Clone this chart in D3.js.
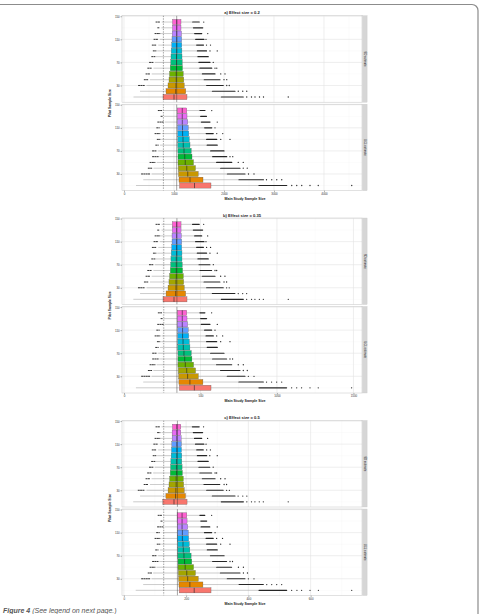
<!DOCTYPE html>
<html><head><meta charset="utf-8">
<script src="https://cdn.jsdelivr.net/npm/d3@7"></script>
<style>html,body{margin:0;padding:0;background:#fff;} svg{display:block;font-family:"Liberation Sans",Arial,sans-serif;}</style>
</head><body><svg id="chart" width="481" height="614"></svg>
<script>
// ---------- DATA ----------
const pilotSizes = [10,20,30,40,50,60,70,80,90,100,110,120,130,140];
const yTickValues = [150,110,70,30];
const facetLabels = ["SD estimate","UCL estimate"];
const panelTitles = ["a) Effect size = 0.2","b) Effect size = 0.35","c) Effect size = 0.5"];
const xTitle = "Main Study Sample Size";
const yTitle = "Pilot Sample Size";
const caption = ["Figure 4", " (See legend on next page.)"];

const xTicksA = [0,1000,2000,3000,4000];
const xTicksB = [0,500,1000,1500];
const xTicksC = [0,200,400,600];
const xDomainA = [-40,4760];
const xDomainB = [-13,1556];
const xDomainC = [-6,765];
const powerLinesA = [788,1054];   // dashed, solid
const powerLinesB = [260,346];
const powerLinesC = [128,172];

// panel a – SD estimate
const aSdLoMin = [null,null,290,405,440,475,510,555,585,565,600,620,675,640];
const aSdLoMax = [null,null,420,485,520,555,590,620,640,655,685,720,720,720];
const aSdWl  = [190,320,450,520,555,590,620,640,665,685,720,740,750,755];
const aSdQ1  = [780,840,880,900,910,925,935,940,945,955,960,965,970,970];
const aSdMed = [1000,1035,1040,1045,1045,1050,1050,1050,1055,1055,1055,1055,1055,1055];
const aSdQ3  = [1260,1235,1205,1195,1185,1170,1165,1160,1158,1155,1153,1150,1140,1140];
const aSdWh  = [1935,1755,1640,1590,1555,1505,1485,1465,1455,1440,1420,1400,1375,1360];
const aSdOutEnd = [2385,2220,1985,1920,1820,1755,1720,1685,1650,1590,1600,1555,1575,1505];
const aSdSparse = [[2455,2550,2620,2710,2790,3285],[2285,2375,2455],[2055,2105],[2000,2055],[1935,2020],[1820,1855],[1785],[],[1720,1865],[1650,1730],[1640],[1675],[],[1595]];
// panel a – UCL estimate
const aUclLoMin = [null,null,350,485,520,570,570,635,665,620,655,675,740,685];
const aUclLoMax = [null,null,520,555,620,685,655,685,720,720,705,785,775,755];
const aUclWl  = [240,385,555,590,655,705,685,720,745,755,785,815,800,785];
const aUclQ1  = [1110,1100,1090,1085,1080,1080,1078,1075,1075,1073,1072,1068,1068,1066];
const aUclMed = [1410,1320,1275,1255,1225,1215,1200,1185,1180,1172,1170,1166,1165,1165];
const aUclQ3  = [1740,1580,1485,1430,1390,1360,1345,1320,1305,1295,1285,1275,1260,1255];
const aUclWh  = [2685,2285,2055,1920,1840,1760,1720,1650,1640,1630,1600,1535,1520,1505];
const aUclOutEnd = [3255,2790,2420,2320,2155,2055,2000,1865,1855,1785,1755,1720,1650,1620];
const aUclSparse = [[3355,3455,3555,3720,3885,4555],[2850,2955,3055,3155],[2490,2600],[2385,2465],[2285,2385],[2120,2175],[],[],[1935,2120],[1855,1975],[1820],[1865],[],[1755]];

// panel b – SD estimate
const bSdLoMin = [null,null,94,133,144,155,166,181,192,185,196,203,220,209];
const bSdLoMax = [null,null,137,159,170,181,192,203,209,214,224,235,235,235];
const bSdWl  = [61,105,148,170,181,192,203,209,218,224,235,242,246,246];
const bSdQ1  = [255,275,288,294,298,303,305,307,309,312,314,314,316,316];
const bSdMed = [327,338,340,340,342,342,342,342,344,344,344,344,344,344];
const bSdQ3  = [412,403,394,390,388,383,381,379,379,377,377,375,373,373];
const bSdWh  = [632,573,536,519,508,492,486,479,475,471,464,458,449,444];
const bSdOutEnd = [780,725,649,627,595,573,562,551,540,519,523,508,514,492];
const bSdSparse = [[802,834,856,885,911,1074],[747,776,802],[671,688],[654,671],[632,660],[595,606],[584],[],[562,610],[540,566],[536],[547],[],[521]];
// panel b – UCL estimate
const bUclLoMin = [null,null,115,159,170,187,187,207,218,203,214,220,242,224];
const bUclLoMax = [null,null,170,181,203,224,214,224,235,235,231,257,253,246];
const bUclWl  = [78,126,181,192,214,231,224,235,244,246,257,266,261,257];
const bUclQ1  = [362,359,357,355,353,353,353,351,351,351,351,349,349,349];
const bUclMed = [460,431,416,410,401,397,392,388,386,383,383,381,381,381];
const bUclQ3  = [569,516,486,468,455,444,440,431,427,423,420,416,412,410];
const bUclWh  = [878,747,671,627,601,575,562,540,536,532,523,501,497,492];
const bUclOutEnd = [1063,911,791,758,704,671,654,610,606,584,573,562,540,529];
const bUclSparse = [[1096,1129,1161,1216,1270,1488],[932,965,998,1031],[813,850],[780,806],[747,780],[693,710],[],[],[632,693],[606,645],[595],[610],[],[573]];

// panel c – SD estimate
const cSdLoMin = [null,null,46,65,71,76,82,89,94,91,96,100,108,103];
const cSdLoMax = [null,null,67,78,84,89,94,100,103,105,110,116,116,116];
const cSdWl  = [30,52,73,84,89,94,100,103,107,110,116,119,121,121];
const cSdQ1  = [125,135,142,145,147,149,150,151,152,153,154,155,155,156];
const cSdMed = [161,166,167,168,168,169,169,169,170,170,170,170,170,170];
const cSdQ3  = [203,198,194,192,191,188,187,186,186,185,185,184,183,183];
const cSdWh  = [311,282,264,255,250,242,239,236,234,232,228,225,221,218];
const cSdOutEnd = [384,357,319,308,293,282,276,271,266,255,257,250,253,242];
const cSdSparse = [[395,410,421,435,448,528],[367,382,395],[330,339],[322,330],[311,325],[293,298],[287],[],[276,300],[266,278],[264],[269],[],[256]];
// panel c – UCL estimate
const cUclLoMin = [null,null,57,78,84,92,92,102,107,100,105,108,119,110];
const cUclLoMax = [null,null,84,89,100,110,105,110,116,116,114,126,124,121];
const cUclWl  = [38,62,89,94,105,114,110,116,120,121,126,131,128,126];
const cUclQ1  = [178,177,176,175,174,174,173,173,173,172,172,172,171,171];
const cUclMed = [226,212,205,202,197,195,193,191,190,188,188,187,187,187];
const cUclQ3  = [280,254,239,230,224,218,216,212,210,208,207,205,203,202];
const cUclWh  = [432,368,330,308,296,283,276,266,264,262,257,246,245,242];
const cUclOutEnd = [523,448,389,373,346,330,322,300,298,287,282,276,266,260];
const cUclSparse = [[539,556,571,598,625,732],[459,475,491,507],[400,418],[384,397],[368,384],[341,349],[],[],[311,341],[298,317],[293],[300],[],[282]];

// ---------- BUILD ----------
function facet(loMin, loMax, wl, q1, med, q3, wh, outEnd, sparse){
  return pilotSizes.map((n,i)=>({n, loMin:loMin[i], loMax:loMax[i], wl:wl[i], q1:q1[i], med:med[i], q3:q3[i], wh:wh[i], outEnd:outEnd[i], sparse:sparse[i]}));
}
const panels = [
  {title:panelTitles[0], domain:xDomainA, ticks:xTicksA, lines:powerLinesA, facets:[
    facet(aSdLoMin,aSdLoMax,aSdWl,aSdQ1,aSdMed,aSdQ3,aSdWh,aSdOutEnd,aSdSparse),
    facet(aUclLoMin,aUclLoMax,aUclWl,aUclQ1,aUclMed,aUclQ3,aUclWh,aUclOutEnd,aUclSparse)]},
  {title:panelTitles[1], domain:xDomainB, ticks:xTicksB, lines:powerLinesB, facets:[
    facet(bSdLoMin,bSdLoMax,bSdWl,bSdQ1,bSdMed,bSdQ3,bSdWh,bSdOutEnd,bSdSparse),
    facet(bUclLoMin,bUclLoMax,bUclWl,bUclQ1,bUclMed,bUclQ3,bUclWh,bUclOutEnd,bUclSparse)]},
  {title:panelTitles[2], domain:xDomainC, ticks:xTicksC, lines:powerLinesC, facets:[
    facet(cSdLoMin,cSdLoMax,cSdWl,cSdQ1,cSdMed,cSdQ3,cSdWh,cSdOutEnd,cSdSparse),
    facet(cUclLoMin,cUclLoMax,cUclWl,cUclQ1,cUclMed,cUclQ3,cUclWh,cUclOutEnd,cUclSparse)]}
];

const palette = ["#F8766D","#E58700","#C99800","#A3A500","#6BB100","#00BA38","#00BF7D","#00C0AF","#00BCD8","#00B0F6","#619CFF","#B983FF","#E76BF3","#FD61D1"];
const color = d3.scaleOrdinal().domain(pilotSizes).range(palette);

const svg = d3.select("#chart");
const plotLeft = 122, plotRight = 362, stripW = 4.6;
const panelTops = [15.7, 218, 420.5];
const facetH = 86.5, facetGap = 2;
const yDomain = [1,151];
const boxUnits = 9;

// frame
svg.append("path").attr("d","M0,4.5 H472 A6,6 0 0 1 478,10.5 V616")
  .attr("fill","none").attr("stroke","#8c8c8c").attr("stroke-width",1.2);

panels.forEach((p,pi)=>{
  const top0 = panelTops[pi];
  const g = svg.append("g");
  const x = d3.scaleLinear().domain(p.domain).range([plotLeft, plotRight]);
  const step = p.ticks[1]-p.ticks[0];
  const minorX = d3.range(p.ticks[0]+step/2, p.domain[1], step);
  const yMinor = yTickValues.map(v=>v-20);

  p.facets.forEach((rows,fi)=>{
    const top = top0 + fi*(facetH+facetGap);
    const y = d3.scaleLinear().domain(yDomain).range([top+facetH, top]);
    const bh = Math.abs(y(0)-y(boxUnits));
    const fg = g.append("g");
    fg.append("rect").attr("x",plotLeft).attr("y",top).attr("width",plotRight-plotLeft).attr("height",facetH).attr("fill","#fff");
    // grid
    fg.selectAll(".gxm").data(minorX).join("line").attr("x1",d=>x(d)).attr("x2",d=>x(d)).attr("y1",top).attr("y2",top+facetH).attr("stroke","#f2f2f2").attr("stroke-width",0.35);
    fg.selectAll(".gym").data(yMinor).join("line").attr("y1",d=>y(d)).attr("y2",d=>y(d)).attr("x1",plotLeft).attr("x2",plotRight).attr("stroke","#f2f2f2").attr("stroke-width",0.35);
    fg.selectAll(".gx").data(p.ticks).join("line").attr("x1",d=>x(d)).attr("x2",d=>x(d)).attr("y1",top).attr("y2",top+facetH).attr("stroke","#e3e3e3").attr("stroke-width",0.6);
    fg.selectAll(".gy").data(yTickValues.filter(v=>v<yDomain[1])).join("line").attr("y1",d=>y(d)).attr("y2",d=>y(d)).attr("x1",plotLeft).attr("x2",plotRight).attr("stroke","#e3e3e3").attr("stroke-width",0.6);

    // boxplots
    const rg = fg.selectAll(".row").data(rows).join("g");
    rg.append("line").attr("x1",d=>x(d.wl)).attr("x2",d=>x(d.q1)).attr("y1",d=>y(d.n)).attr("y2",d=>y(d.n)).attr("stroke","#9a9a9a").attr("stroke-width",0.5);
    rg.append("line").attr("x1",d=>x(d.q3)).attr("x2",d=>x(d.wh)).attr("y1",d=>y(d.n)).attr("y2",d=>y(d.n)).attr("stroke","#9a9a9a").attr("stroke-width",0.5);
    rg.filter(d=>d.loMin!=null).append("line").attr("x1",d=>x(d.loMin)).attr("x2",d=>x(d.loMax)).attr("y1",d=>y(d.n)).attr("y2",d=>y(d.n)).attr("stroke","#333").attr("stroke-width",1.0).attr("stroke-linecap","round").attr("stroke-dasharray","1.2,1.1");
    rg.append("line").attr("x1",d=>x(d.wh)+0.6).attr("x2",d=>x(d.outEnd)).attr("y1",d=>y(d.n)).attr("y2",d=>y(d.n)).attr("stroke","#262626").attr("stroke-width",1.15).attr("stroke-linecap","round");
    rg.selectAll("circle").data(d=>d.sparse.map(v=>({n:d.n,v}))).join("circle").attr("cx",d=>x(d.v)).attr("cy",d=>y(d.n)).attr("r",0.65).attr("fill","#262626");
    rg.append("rect").attr("x",d=>x(d.q1)).attr("y",d=>y(d.n)-bh/2).attr("width",d=>x(d.q3)-x(d.q1)).attr("height",bh)
      .attr("fill",d=>color(d.n)).attr("stroke","#555").attr("stroke-width",0.3);
    rg.append("line").attr("x1",d=>x(d.med)).attr("x2",d=>x(d.med)).attr("y1",d=>y(d.n)-bh/2).attr("y2",d=>y(d.n)+bh/2).attr("stroke","#222").attr("stroke-width",0.6);

    // power reference lines
    fg.append("line").attr("x1",x(p.lines[0])).attr("x2",x(p.lines[0])).attr("y1",top).attr("y2",top+facetH).attr("stroke","#444").attr("stroke-width",0.5).attr("stroke-dasharray","1.4,1.2");
    fg.append("line").attr("x1",x(p.lines[1])).attr("x2",x(p.lines[1])).attr("y1",top).attr("y2",top+facetH).attr("stroke","#333").attr("stroke-width",0.45);

    // border
    fg.append("rect").attr("x",plotLeft).attr("y",top).attr("width",plotRight-plotLeft).attr("height",facetH).attr("fill","none").attr("stroke","#c4c4c4").attr("stroke-width",0.5);
    // strip
    fg.append("rect").attr("x",plotRight+0.5).attr("y",top).attr("width",stripW).attr("height",facetH).attr("fill","#d6d6d6").attr("stroke","#c4c4c4").attr("stroke-width",0.3);
    fg.append("text").attr("transform",`translate(${plotRight+0.5+stripW/2},${top+facetH/2}) rotate(90)`)
      .attr("text-anchor","middle").attr("dy","0.35em").attr("font-size",2.8).attr("fill","#222").text(facetLabels[fi]);

    // y axis
    const ya = fg.append("g").attr("transform",`translate(${plotLeft},0)`)
      .call(d3.axisLeft(y).tickValues(yTickValues).tickSize(1.5).tickPadding(0.8));
    ya.select(".domain").remove();
    ya.selectAll("line").attr("stroke","#444").attr("stroke-width",0.4);
    ya.selectAll("text").attr("font-size",2.9).attr("fill","#333").attr("font-family","Liberation Sans, Arial, sans-serif");

    if(fi===1){
      const xa = fg.append("g").attr("transform",`translate(0,${top+facetH})`)
        .call(d3.axisBottom(x).tickValues(p.ticks).tickFormat(d3.format("d")).tickSize(1.5).tickPadding(0.8));
      xa.select(".domain").remove();
      xa.selectAll("line").attr("stroke","#444").attr("stroke-width",0.4);
      xa.selectAll("text").attr("font-size",2.9).attr("fill","#333").attr("font-family","Liberation Sans, Arial, sans-serif");
      g.append("text").attr("x",(plotLeft+plotRight)/2+3).attr("y",top+facetH+9.3).attr("text-anchor","middle")
        .attr("font-size",3.6).attr("font-weight","bold").attr("fill","#222").text(xTitle);
    }
  });
  // title
  g.append("text").attr("x",(plotLeft+plotRight)/2).attr("y",top0-1.4).attr("text-anchor","middle")
    .attr("font-size",4.1).attr("font-weight","bold").attr("fill","#222").text(p.title);
  // y title
  g.append("text").attr("transform",`translate(110.5,${top0+facetH+facetGap/2}) rotate(-90)`)
    .attr("text-anchor","middle").attr("font-size",3.4).attr("font-weight","bold").attr("fill","#222").text(yTitle);
});

// caption
const cap = svg.append("text").attr("x",3).attr("y",612.5).attr("font-size",7).attr("fill","#555").attr("font-style","italic");
cap.append("tspan").attr("font-weight","bold").text(caption[0]);
cap.append("tspan").text(caption[1]);
</script></body></html>
